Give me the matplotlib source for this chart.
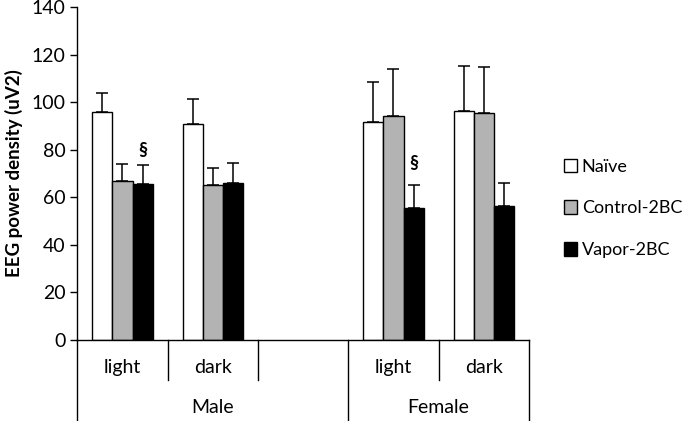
import numpy as np
import matplotlib
matplotlib.use("Agg")
import matplotlib.pyplot as plt
import matplotlib.transforms as mtransforms
from matplotlib.patches import Patch

plt.rcParams['font.family'] = ['Lato', 'DejaVu Sans']

# 데이터
groups = ["Male", "Female"]
conditions = ["light", "dark"]
series = ["Naïve", "Control-2BC", "Vapor-2BC"]
colors = ["white", "#b3b3b3", "black"]

# male light, male dark, female light, female dark
means = {
    "Naïve":       [95.7, 90.8, 91.8, 96.2],
    "Control-2BC": [66.7, 65.3, 94.0, 95.5],
    "Vapor-2BC":   [65.7, 66.2, 55.6, 56.5],
}
errs = {
    "Naïve":       [8.2, 10.6, 16.7, 19.0],
    "Control-2BC": [7.1, 6.8, 20.1, 19.3],
    "Vapor-2BC":   [7.7, 8.3, 9.7, 9.5],
}
slots = [0, 1, 3, 4]          # slot 2 is empty
sig_slots = [0, 3]
sig_y = [79.8, 74.2]

fig = plt.figure(figsize=(6.86, 4.21), dpi=100)
ax = fig.add_axes([0.1127, 0.1924, 0.7711 - 0.1127, 0.9834 - 0.1924])

w = 0.222
for i, s in enumerate(series):
    x = np.array(slots) + (i - 1) * w
    ax.bar(x, means[s], width=w, color=colors[i], edgecolor="black", linewidth=1.0)
    ax.errorbar(x, means[s], yerr=[np.zeros(len(x)), errs[s]], fmt="none",
                ecolor="black", elinewidth=1.1, capsize=4.5, capthick=1.1)

for sl, yy in zip(sig_slots, sig_y):
    ax.text(sl + w, yy, "§", ha="center", va="center", fontsize=13, fontweight="bold")

ax.set_xlim(-0.5, 4.5)
ax.set_ylim(0, 140)
ax.set_yticks(range(0, 141, 20))
ax.tick_params(axis="y", labelsize=14, length=5, width=1.0, direction="out")
ax.set_xticks([])
for sp in ["top", "right"]:
    ax.spines[sp].set_visible(False)
ax.spines["left"].set_linewidth(1.0)
ax.spines["bottom"].set_linewidth(1.0)
ax.set_ylabel("EEG power density (uV2)", fontsize=13.5, fontweight="bold", labelpad=6)

# 카테고리 구분선과 라벨
trans = mtransforms.blended_transform_factory(ax.transData, ax.transAxes)
for xs in [0.5, 1.5, 3.5]:
    ax.plot([xs, xs], [0, -0.119], color="black", lw=1.0, transform=trans, clip_on=False)
for xs in [-0.5, 2.5, 4.5]:
    ax.plot([xs, xs], [0, -0.245], color="black", lw=1.0, transform=trans, clip_on=False)
for k, sl in enumerate(slots):
    ax.text(sl, -0.083, conditions[k % 2], ha="center", va="center",
            fontsize=14, transform=trans)
ax.text(1.0, -0.203, groups[0], ha="center", va="center", fontsize=14, transform=trans)
ax.text(3.5, -0.203, groups[1], ha="center", va="center", fontsize=14, transform=trans)

handles = [Patch(facecolor=c, edgecolor="black", linewidth=1.0) for c in colors]
fig.legend(handles, series, loc="center left", bbox_to_anchor=(0.798, 0.505),
           frameon=False, fontsize=13, handlelength=0.75, handleheight=0.75,
           handletextpad=0.25, labelspacing=1.43)

plt.savefig("out.png", dpi=100)
